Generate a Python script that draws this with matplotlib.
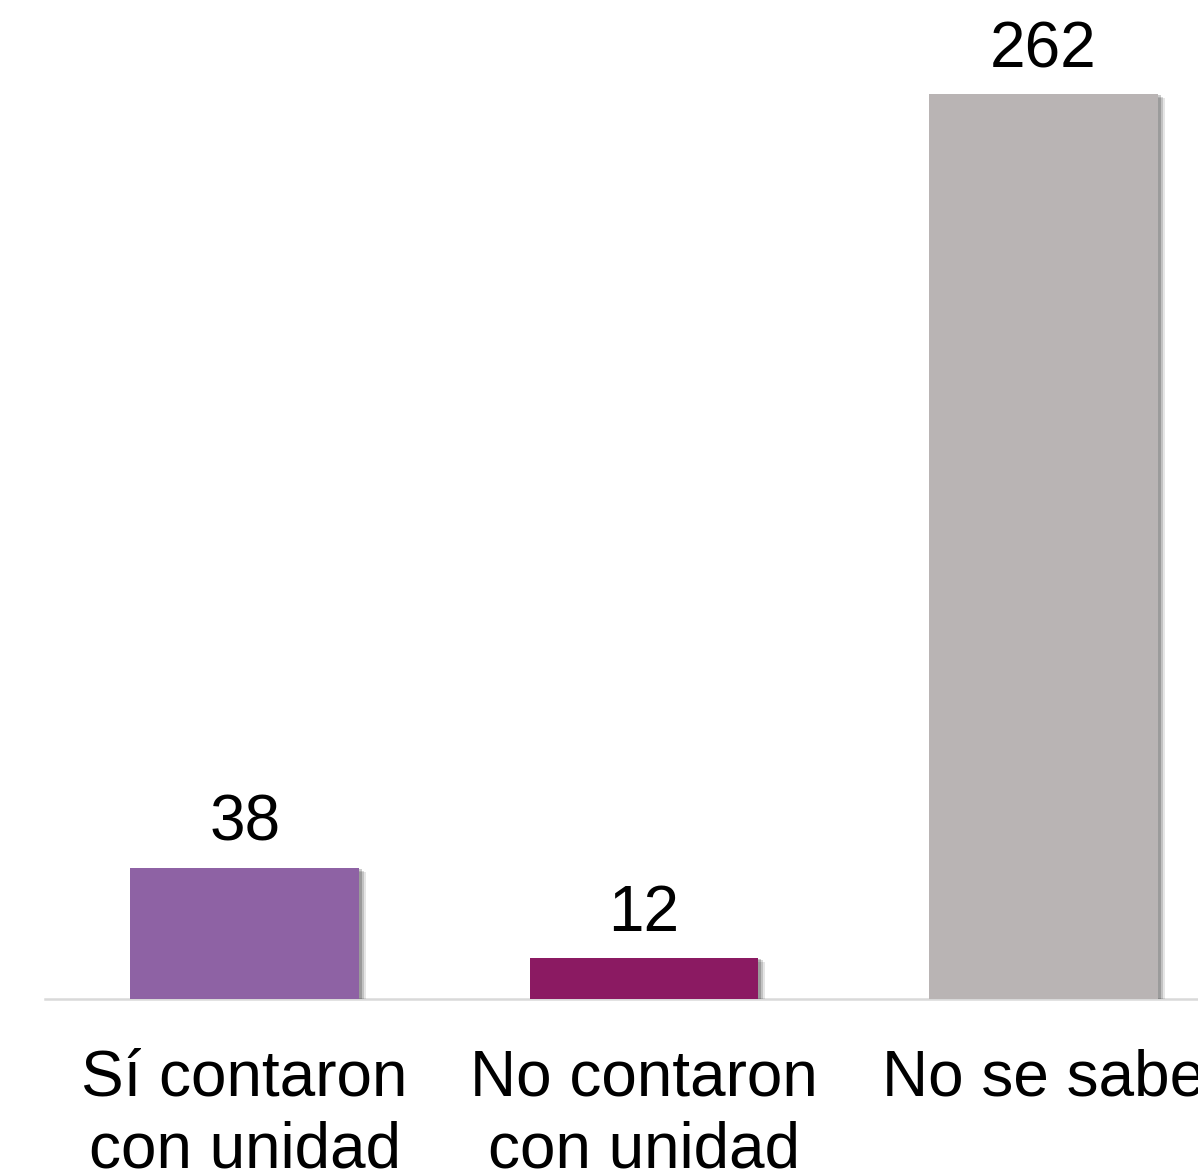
import matplotlib
matplotlib.use("Agg")
import matplotlib.pyplot as plt
import matplotlib.patheffects as pe

categories = ["Sí contaron\ncon unidad", "No contaron\ncon unidad", "No se sabe"]
values = [38, 12, 262]
colors = ["#8E62A4", "#8B1A62", "#B9B4B4"]

plt.rcParams['font.family'] = ['Liberation Sans', 'DejaVu Sans']

W, H = 1198, 1175
fig = plt.figure(figsize=(W / 100, H / 100), dpi=100)
left_px, right_px = 45, 1243
base_px = 999
ax = fig.add_axes([left_px / W, (H - base_px) / H, (right_px - left_px) / W, base_px / H])

x = list(range(len(values)))
shadow = [pe.SimplePatchShadow(offset=(5, -3), shadow_rgbFace="#000000", alpha=0.10),
          pe.SimplePatchShadow(offset=(3.5, -2), shadow_rgbFace="#000000", alpha=0.15),
          pe.SimplePatchShadow(offset=(2, -1), shadow_rgbFace="#000000", alpha=0.2),
          pe.Normal()]
bars = ax.bar(x, values, width=0.573, color=colors, zorder=3)
for b in bars:
    b.set_path_effects(shadow)

ax.set_xlim(-0.5, len(values) - 0.5)
ax.set_ylim(0, 289.2)

for xi, v in zip(x, values):
    ax.annotate(str(v), (xi, v), xytext=(0, 10), textcoords="offset points",
                ha="center", va="bottom", fontsize=46, color="#000000")

ax.set_xticks(x)
ax.set_xticklabels(categories, fontsize=46, linespacing=1.25)
ax.tick_params(axis="x", length=0, pad=36)
ax.set_yticks([])
for s in ["top", "left", "right"]:
    ax.spines[s].set_visible(False)
ax.spines["bottom"].set_color("#D9D9D9")
ax.spines["bottom"].set_linewidth(1.8)
ax.spines["bottom"].set_zorder(1)

fig.savefig("out.png", dpi=100)
